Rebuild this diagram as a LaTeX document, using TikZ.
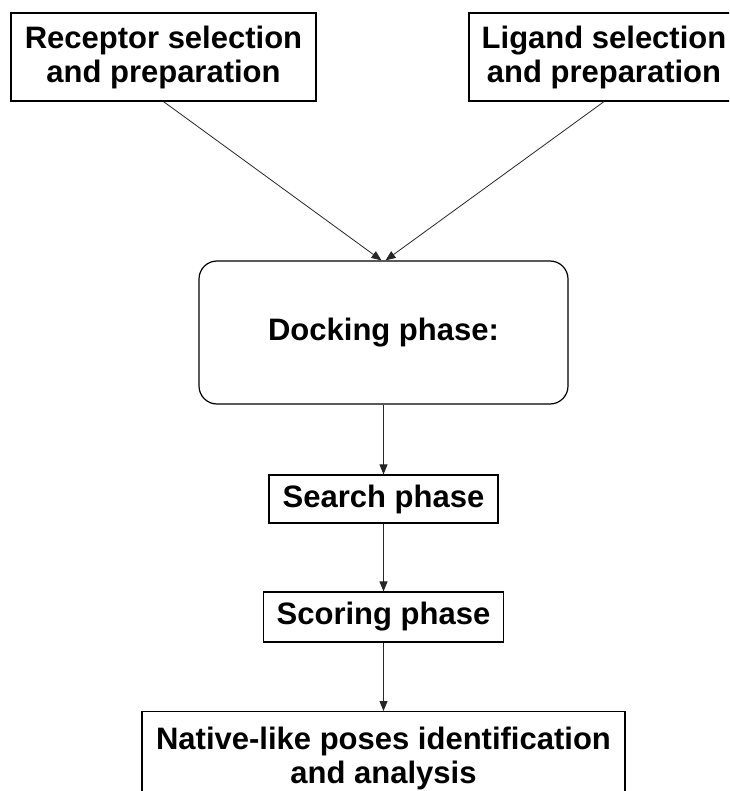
\documentclass[tikz,border=0pt]{standalone}
\usepackage{fontspec}
\setmainfont{Liberation Sans}
\usetikzlibrary{arrows.meta}

\begin{document}
\begin{tikzpicture}[x=1pt,y=-1pt]
\tikzset{
  procbox/.style={rectangle,draw,line width=1.2pt,inner sep=0pt,align=center,
    font=\fontsize{31}{34}\selectfont\bfseries},
  dockbox/.style={procbox,rounded corners=18pt},
  directed/.style={-{Triangle[length=10pt,width=8pt]},line width=0.8pt,draw=black!85}
}
\useasboundingbox (0,0) rectangle (729,791);
\clip (0,0) rectangle (729,791);
\node[procbox,minimum width=305,minimum height=88] (n_rec) at (163.5,57) {Receptor selection\\and preparation};
\node[procbox,minimum width=270,minimum height=88] (n_lig) at (604,57) {Ligand selection\\and preparation};
\node[dockbox,minimum width=369,minimum height=143] (n_dock) at (383.5,332.5) {Docking phase:};
\node[procbox,minimum width=229,minimum height=48] (n_search) at (383.5,499) {Search phase};
\node[procbox,minimum width=240,minimum height=50] (n_score) at (383.5,617) {Scoring phase};
\node[procbox,minimum width=483,anchor=north,inner ysep=15pt,text depth=60pt] (n_native) at (383.5,711) {Native-like poses identification\\and analysis};
\draw[directed] (n_rec.south) -- ([xshift=-2pt]n_dock.north);
\draw[directed] (n_lig.south) -- ([xshift=2pt]n_dock.north);
\draw[directed] (n_dock) -- (n_search);
\draw[directed] (n_search) -- (n_score);
\draw[directed] (n_score) -- (n_native);
\end{tikzpicture}
\end{document}
